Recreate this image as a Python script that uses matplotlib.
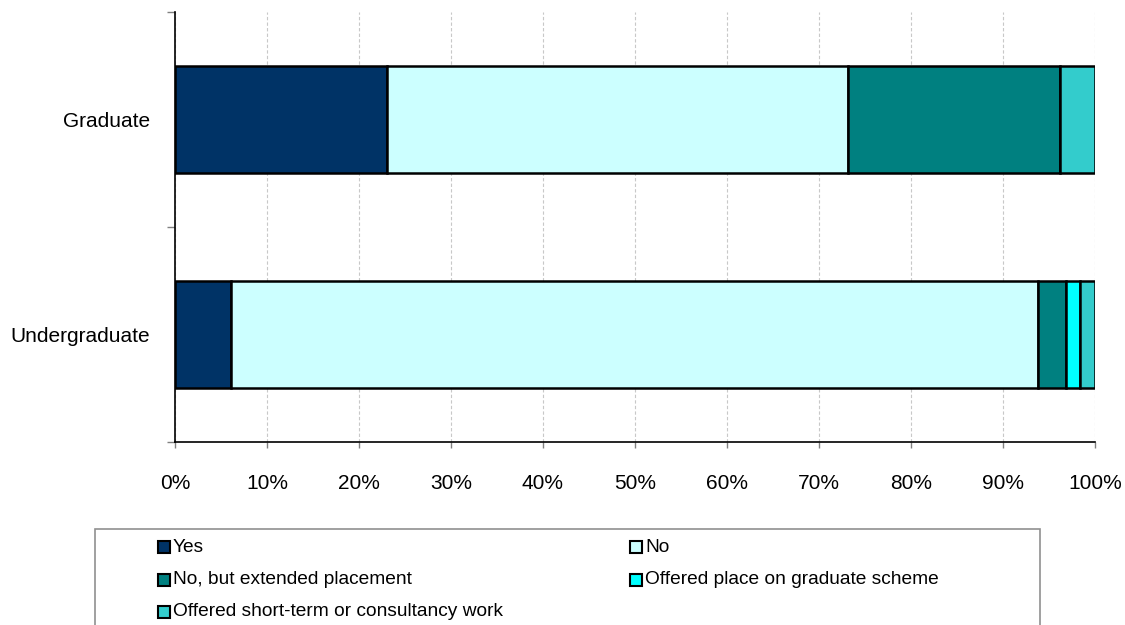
import numpy as np
import matplotlib
matplotlib.use('Agg')
import matplotlib.pyplot as plt
from matplotlib.patches import Rectangle

plt.rcParams['font.family'] = ['Liberation Sans', 'DejaVu Sans']

# Podaci (procenti po kategoriji)
categories = ['Undergraduate', 'Graduate']
series_names = ['Yes', 'No', 'No, but extended placement',
                'Offered place on graduate scheme',
                'Offered short-term or consultancy work']
yes_vals = [6.1, 23.0]
no_vals = [87.7, 50.2]
extended_vals = [3.0, 23.0]
scheme_vals = [1.6, 0.0]
shortterm_vals = [1.6, 3.8]
colors = ['#003366', '#CCFFFF', '#008080', '#00FFFF', '#33CCCC']

series = [yes_vals, no_vals, extended_vals, scheme_vals, shortterm_vals]

W, H = 1125, 625
fig = plt.figure(figsize=(W / 100, H / 100), dpi=100)
ax = fig.add_axes([175 / W, 1 - 442 / H, 920 / W, 430 / H])

y = np.arange(len(categories))
left = np.zeros(len(categories))
for vals, col in zip(series, colors):
    vals = np.array(vals)
    ax.barh(y, vals, left=left, height=0.5, color=col,
            edgecolor='black', linewidth=1.8, zorder=3)
    left += vals

ax.set_xlim(0, 100)
ax.set_ylim(-0.5, 1.5)
ax.set_xticks(np.arange(0, 101, 10))
ax.set_xticklabels([f'{v}%' for v in range(0, 101, 10)], fontsize=15)
ax.tick_params(axis='x', length=4, color='#808080', width=1, pad=19)
ax.set_yticks(y)
ax.set_yticklabels(categories, fontsize=15)
ax.tick_params(axis='y', which='major', length=0, pad=18)
ax.set_yticks([-0.5, 0.5, 1.5], minor=True)
ax.tick_params(axis='y', which='minor', length=6, color='#808080', width=1)

ax.grid(axis='x', color='#C8C8C8', linestyle=(0, (3, 2)), linewidth=0.8, zorder=0)
ax.spines['top'].set_visible(False)
ax.spines['right'].set_visible(False)
ax.spines['left'].set_linewidth(1.2)
ax.spines['bottom'].set_linewidth(1.2)

# Legenda - rucno, kao u Excelu (redovi po dva)
def fx(px):
    return px / W

def fy(py):
    return 1 - py / H

fig.add_artist(Rectangle((fx(95), fy(660)), fx(1040) - fx(95), fy(529) - fy(660),
                         transform=fig.transFigure, facecolor='white',
                         edgecolor='#909090', linewidth=1.2, clip_on=False))
col_x = [158, 630]
row_y = [547, 580, 612]
for i, (name, col) in enumerate(zip(series_names, colors)):
    cx = col_x[i % 2]
    ry = row_y[i // 2]
    fig.add_artist(Rectangle((fx(cx), fy(ry + 6)), fx(12), 12 / H,
                             transform=fig.transFigure, facecolor=col,
                             edgecolor='black', linewidth=1.5))
    fig.text(fx(cx + 15), fy(ry), name, fontsize=13.8, va='center', ha='left')

fig.savefig('out.png', dpi=100)
